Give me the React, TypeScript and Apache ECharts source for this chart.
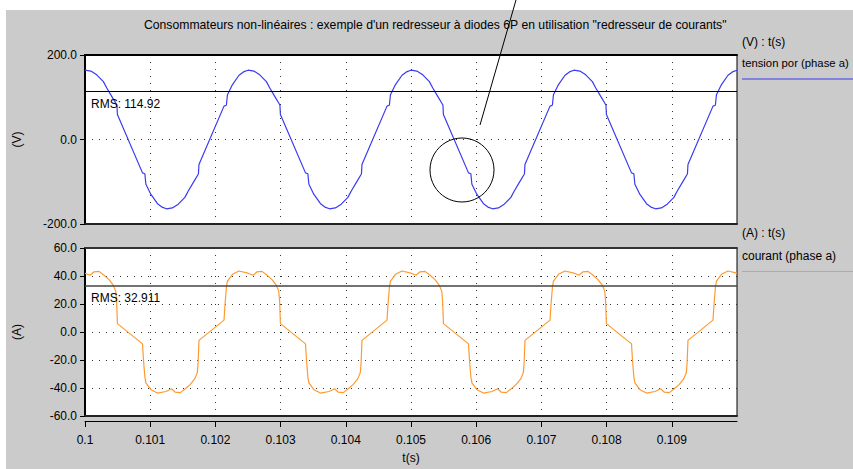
import React, { useEffect, useRef } from "react";
import * as echarts from "echarts";

const chartTitle =
  'Consommateurs non-linéaires : exemple d\'un redresseur à diodes 6P en utilisation "redresseur de courants"';
const voltageLegendHeader = "(V) : t(s)";
const voltageLegendName = "tension por (phase a)";
const currentLegendHeader = "(A) : t(s)";
const currentLegendName = "courant (phase a)";

const xTickLabels = ["0.1", "0.101", "0.102", "0.103", "0.104", "0.105", "0.106", "0.107", "0.108", "0.109"];
const voltageTicks = [-200, 0, 200];
const currentTicks = [-60, -40, -20, 0, 20, 40, 60];

const voltageRms = 114.92;
const currentRms = 32.911;

// [t (s), V]
const voltage: [number, number][] = [
  [0.1, 164], [0.10009, 162], [0.10018, 153], [0.100282, 137], [0.100334, 122], [0.10041, 102],
  [0.10048, 84], [0.10049, 81], [0.100497, 59], [0.100882, -79], [0.100918, -81], [0.100934, -106],
  [0.101011, -130], [0.101112, -152], [0.10118, -160], [0.10125, -164], [0.10134, -162], [0.10143, -153],
  [0.101532, -137], [0.101584, -122], [0.10166, -102], [0.10173, -84], [0.10174, -81], [0.101748, -59],
  [0.102132, 79], [0.102168, 81], [0.102185, 106], [0.102262, 130], [0.102362, 152], [0.10243, 160],
  [0.1025, 164], [0.10259, 162], [0.10268, 153], [0.102782, 137], [0.102834, 122], [0.10291, 102],
  [0.10298, 84], [0.10299, 81], [0.102997, 59], [0.103382, -79], [0.103418, -81], [0.103434, -106],
  [0.103511, -130], [0.103612, -152], [0.10368, -160], [0.10375, -164], [0.10384, -162], [0.10393, -153],
  [0.104032, -137], [0.104084, -122], [0.10416, -102], [0.10423, -84], [0.10424, -81], [0.104248, -59],
  [0.104632, 79], [0.104668, 81], [0.104685, 106], [0.104762, 130], [0.104862, 152], [0.10493, 160],
  [0.105, 164], [0.10509, 162], [0.10518, 153], [0.105282, 137], [0.105334, 122], [0.10541, 102],
  [0.10548, 84], [0.10549, 81], [0.105497, 59], [0.105882, -79], [0.105918, -81], [0.105934, -106],
  [0.106011, -130], [0.106112, -152], [0.10618, -160], [0.10625, -164], [0.10634, -162], [0.10643, -153],
  [0.106532, -137], [0.106584, -122], [0.10666, -102], [0.10673, -84], [0.10674, -81], [0.106748, -59],
  [0.107132, 79], [0.107168, 81], [0.107185, 106], [0.107262, 130], [0.107362, 152], [0.10743, 160],
  [0.1075, 164], [0.10759, 162], [0.10768, 153], [0.107782, 137], [0.107834, 122], [0.10791, 102],
  [0.10798, 84], [0.10799, 81], [0.107997, 59], [0.108382, -79], [0.108418, -81], [0.108434, -106],
  [0.108511, -130], [0.108612, -152], [0.10868, -160], [0.10875, -164], [0.10884, -162], [0.10893, -153],
  [0.109032, -137], [0.109084, -122], [0.10916, -102], [0.10923, -84], [0.10924, -81], [0.109248, -59],
  [0.109632, 79], [0.109668, 81], [0.109685, 106], [0.109762, 130], [0.109862, 152], [0.10993, 160],
  [0.11, 164],
];

// [t (s), A]
const current: [number, number][] = [
  [0.1, 42], [0.100077, 40.5], [0.100138, 43], [0.100215, 43.3], [0.100292, 40.5], [0.100369, 37.4],
  [0.100435, 33.3], [0.100472, 29], [0.100485, 22], [0.100497, 6], [0.100882, -8.5], [0.100897, -20],
  [0.100918, -32], [0.100934, -36.4], [0.101011, -41.2], [0.101112, -43.6], [0.101242, -42.5], [0.101328, -40.5],
  [0.101385, -43], [0.101462, -43.3], [0.101538, -40.5], [0.101615, -37.4], [0.101685, -33.3], [0.101723, -29],
  [0.101735, -22], [0.101748, -6], [0.102132, 8.5], [0.102148, 20], [0.102169, 32], [0.102185, 36.4],
  [0.102262, 41.2], [0.102362, 43.6],
  [0.1025, 42], [0.102577, 40.5], [0.102638, 43], [0.102715, 43.3], [0.102792, 40.5], [0.102869, 37.4],
  [0.102935, 33.3], [0.102972, 29], [0.102985, 22], [0.102997, 6], [0.103382, -8.5], [0.103397, -20],
  [0.103418, -32], [0.103434, -36.4], [0.103511, -41.2], [0.103612, -43.6], [0.103742, -42.5], [0.103828, -40.5],
  [0.103885, -43], [0.103962, -43.3], [0.104038, -40.5], [0.104115, -37.4], [0.104185, -33.3], [0.104223, -29],
  [0.104235, -22], [0.104248, -6], [0.104632, 8.5], [0.104648, 20], [0.104669, 32], [0.104685, 36.4],
  [0.104762, 41.2], [0.104862, 43.6],
  [0.105, 42], [0.105077, 40.5], [0.105138, 43], [0.105215, 43.3], [0.105292, 40.5], [0.105369, 37.4],
  [0.105435, 33.3], [0.105472, 29], [0.105485, 22], [0.105497, 6], [0.105882, -8.5], [0.105897, -20],
  [0.105918, -32], [0.105934, -36.4], [0.106011, -41.2], [0.106112, -43.6], [0.106242, -42.5], [0.106328, -40.5],
  [0.106385, -43], [0.106462, -43.3], [0.106538, -40.5], [0.106615, -37.4], [0.106685, -33.3], [0.106723, -29],
  [0.106735, -22], [0.106748, -6], [0.107132, 8.5], [0.107148, 20], [0.107169, 32], [0.107185, 36.4],
  [0.107262, 41.2], [0.107362, 43.6],
  [0.1075, 42], [0.107577, 40.5], [0.107638, 43], [0.107715, 43.3], [0.107792, 40.5], [0.107869, 37.4],
  [0.107935, 33.3], [0.107972, 29], [0.107985, 22], [0.107997, 6], [0.108382, -8.5], [0.108397, -20],
  [0.108418, -32], [0.108434, -36.4], [0.108511, -41.2], [0.108612, -43.6], [0.108742, -42.5], [0.108828, -40.5],
  [0.108885, -43], [0.108962, -43.3], [0.109038, -40.5], [0.109115, -37.4], [0.109185, -33.3], [0.109223, -29],
  [0.109235, -22], [0.109248, -6], [0.109632, 8.5], [0.109648, 20], [0.109669, 32], [0.109685, 36.4],
  [0.109762, 41.2], [0.109862, 43.6],
  [0.11, 42],
];

const FONT = '"Liberation Sans", Arial, sans-serif';
const BLUE = "#3a3af2";
const ORANGE = "#ff9a30";

export default function App() {
  const ref = useRef<HTMLDivElement>(null);

  useEffect(() => {
    if (!ref.current) return;
    const chart = echarts.init(ref.current, undefined, { renderer: "svg" });
    const tickValues = xTickLabels.map((s) => Number(s));
    const xFormatter = (v: number) => {
      const i = Math.round((v - 0.1) / 0.001);
      return xTickLabels[i] ?? "";
    };
    const dotted = { color: "#333", width: 1, type: [1, 6] as any };
    const labelStyle = { color: "#000", fontSize: 12, fontFamily: FONT };

    const gridL = 85;
    const gridW = 652;

    const frameAxis = (gridIndex: number, position: string, color: string) => ({
      gridIndex, type: "value", min: 0.1, max: 0.11, position,
      axisLine: { show: true, onZero: false, lineStyle: { color, width: 2 } },
      axisTick: { show: false }, axisLabel: { show: false }, splitLine: { show: false },
    });

    chart.setOption({
      animation: false,
      backgroundColor: "#cbcbcb",
      grid: [
        { left: gridL, top: 55, width: gridW, height: 169, show: true, backgroundColor: "#fff", borderColor: "#000", borderWidth: 1 },
        { left: gridL, top: 248, width: gridW, height: 168, show: true, backgroundColor: "#fff", borderColor: "#000", borderWidth: 1 },
      ],
      xAxis: [
        {
          gridIndex: 0, type: "value", min: 0.1, max: 0.11, interval: 0.001, position: "bottom",
          axisLine: { show: true, onZero: false, lineStyle: { color: "#222", width: 2 } },
          axisTick: { show: false, customValues: tickValues },
          axisLabel: { show: false, customValues: tickValues },
          splitLine: { show: true, lineStyle: dotted },
        },
        frameAxis(0, "top", "#000"),
        {
          gridIndex: 1, type: "value", min: 0.1, max: 0.11, interval: 0.001, position: "bottom", offset: 5,
          name: "t(s)", nameLocation: "middle", nameGap: 31, nameTextStyle: labelStyle,
          axisLine: { show: true, onZero: false, lineStyle: { color: "#000", width: 1 } },
          axisTick: { show: true, length: 6, customValues: tickValues, lineStyle: { color: "#000" } },
          axisLabel: { ...labelStyle, margin: 13, formatter: xFormatter, customValues: tickValues },
          splitLine: { show: true, lineStyle: dotted },
        },
        frameAxis(1, "bottom", "#222"),
        frameAxis(1, "top", "#333"),
      ],
      yAxis: [
        {
          gridIndex: 0, type: "value", min: voltageTicks[0], max: voltageTicks[voltageTicks.length - 1], interval: 200,
          name: "(V)", nameLocation: "middle", nameGap: 62, nameTextStyle: labelStyle,
          axisLine: { show: true, onZero: false, lineStyle: { color: "#000", width: 2 } },
          axisTick: { show: true, length: 5, lineStyle: { color: "#000" } },
          axisLabel: { ...labelStyle, margin: 8, formatter: (v: number) => v.toFixed(1) },
          splitLine: { show: true, lineStyle: dotted },
        },
        {
          gridIndex: 1, type: "value", min: currentTicks[0], max: currentTicks[currentTicks.length - 1], interval: 20,
          name: "(A)", nameLocation: "middle", nameGap: 62, nameTextStyle: labelStyle,
          axisLine: { show: true, onZero: false, lineStyle: { color: "#000", width: 2 } },
          axisTick: { show: true, length: 5, lineStyle: { color: "#000" } },
          axisLabel: { ...labelStyle, margin: 8, formatter: (v: number) => v.toFixed(1) },
          splitLine: { show: true, lineStyle: dotted },
        },
      ],
      series: [
        {
          name: voltageLegendName, type: "line", xAxisIndex: 0, yAxisIndex: 0, data: voltage,
          showSymbol: false, lineStyle: { color: BLUE, width: 1.2 }, itemStyle: { color: BLUE },
          markLine: {
            silent: true, symbol: "none", label: { show: false },
            lineStyle: { color: "#000", width: 1, type: "solid" },
            data: [{ yAxis: voltageRms }],
          },
        },
        {
          name: currentLegendName, type: "line", xAxisIndex: 2, yAxisIndex: 1, data: current,
          showSymbol: false, lineStyle: { color: ORANGE, width: 1.2 }, itemStyle: { color: ORANGE },
          markLine: {
            silent: true, symbol: "none", label: { show: false },
            lineStyle: { color: "#444", width: 1.5, type: "solid" },
            data: [{ yAxis: currentRms }],
          },
        },
      ],
      graphic: [
        { type: "rect", shape: { x: 0, y: 0, width: 853, height: 10 }, style: { fill: "#fff" }, silent: true },
        { type: "rect", shape: { x: 0, y: 0, width: 6, height: 469 }, style: { fill: "#fff" }, silent: true },
        {
          type: "text", x: 144, y: 25, z: 100,
          style: { text: chartTitle, fill: "#000", font: `12.2px ${FONT}`, textAlign: "left", textVerticalAlign: "middle" },
        },
        {
          type: "text", x: 742, y: 42, z: 100,
          style: { text: voltageLegendHeader, fill: "#000", font: `12px ${FONT}`, textAlign: "left", textVerticalAlign: "middle" },
        },
        {
          type: "text", x: 742, y: 63, z: 100,
          style: { text: voltageLegendName, fill: "#000", font: `11.3px ${FONT}`, textAlign: "left", textVerticalAlign: "middle" },
        },
        { type: "line", z: 100, shape: { x1: 742, y1: 79, x2: 853, y2: 79 }, style: { stroke: BLUE, lineWidth: 1.2 } },
        {
          type: "text", x: 742, y: 233, z: 100,
          style: { text: currentLegendHeader, fill: "#000", font: `12px ${FONT}`, textAlign: "left", textVerticalAlign: "middle" },
        },
        {
          type: "text", x: 742, y: 256, z: 100,
          style: { text: currentLegendName, fill: "#000", font: `12px ${FONT}`, textAlign: "left", textVerticalAlign: "middle" },
        },
        { type: "line", z: 100, shape: { x1: 742, y1: 271.5, x2: 853, y2: 271.5 }, style: { stroke: ORANGE, lineWidth: 1.2 } },
        {
          type: "text", x: 91, y: 104, z: 100,
          style: { text: "RMS: " + voltageRms.toFixed(2), fill: "#000", font: `12px ${FONT}`, textAlign: "left", textVerticalAlign: "middle" },
        },
        {
          type: "text", x: 91, y: 298, z: 100,
          style: { text: "RMS: " + currentRms.toFixed(3), fill: "#000", font: `12px ${FONT}`, textAlign: "left", textVerticalAlign: "middle" },
        },
        { type: "circle", z: 100, shape: { cx: 462, cy: 170, r: 32 }, style: { fill: "none", stroke: "#000", lineWidth: 1 } },
        { type: "line", z: 100, shape: { x1: 480, y1: 125, x2: 516, y2: 0 }, style: { stroke: "#000", lineWidth: 1 } },
      ],
    });
    return () => chart.dispose();
  }, []);

  return (
    <div
      ref={ref}
      style={{ position: "fixed", left: 0, top: 0, width: 853, height: 469 }}
    />
  );
}
